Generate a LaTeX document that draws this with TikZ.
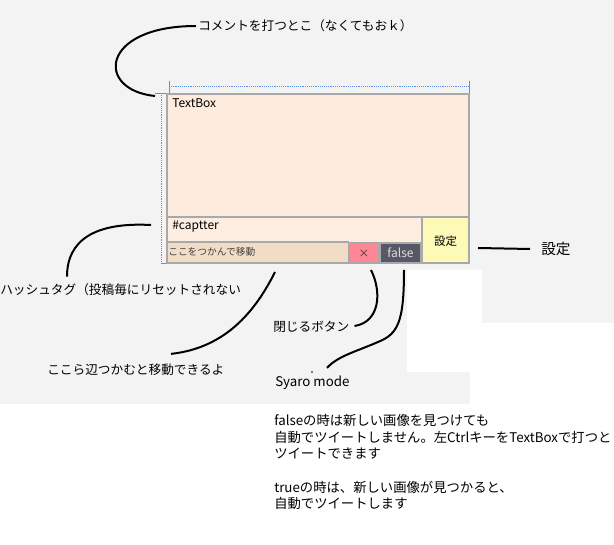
\documentclass[tikz,border=0pt]{standalone}
\usepackage{fontspec}
\setmainfont{Noto Sans CJK JP}
\usetikzlibrary{calc}
\definecolor{bggray}{HTML}{F3F3F3}
\definecolor{peach}{HTML}{FDEBDD}
\definecolor{peachlight}{HTML}{FEEEE2}
\definecolor{tanstrip}{HTML}{F2DCC6}
\definecolor{closepink}{HTML}{FF8795}
\definecolor{slate}{HTML}{575766}
\definecolor{paleyellow}{HTML}{FDF9B6}
\definecolor{framegray}{HTML}{A9A9A9}
\definecolor{guideblue}{HTML}{5B8DEF}
\tikzset{
  frame/.style={draw=framegray, line width=1.2pt},
  callout/.style={line width=1.5pt, black},
  label/.style={anchor=west, inner sep=0pt, font=\fontsize{9.5}{11}\selectfont},
  boxtext/.style={anchor=west, inner sep=0pt, font=\fontsize{9}{11}\selectfont},
}
\begin{document}
\begin{tikzpicture}[x=0.75pt,y=-0.75pt]
      \useasboundingbox (0,0) rectangle (614,545);
      \fill[bggray] (0,0) rectangle (614,545);
      \fill[white] (407,270) -- (482,270) -- (482,323) -- (614,323) -- (614,545)
                -- (0,545) -- (0,404) -- (470,404) -- (470,372) -- (407,372) -- cycle;
      \draw[guideblue, densely dotted] (169,86) -- (469,86);
      \draw[guideblue] (169,81) -- (169,93); \draw[guideblue] (469,81) -- (469,93);
      \draw[guideblue, densely dotted] (161,93) -- (161,263);
      \draw[guideblue] (155,93) -- (167,93); \draw[guideblue] (161,263) -- (167,263);
      \fill[peach] (167,94) rectangle (469,217);
      \fill[peachlight] (167,217) rectangle (422,242);
      \fill[tanstrip] (167,242) rectangle (349,263);
      \fill[paleyellow] (422,217) rectangle (469,263);
      \draw[frame, fill=closepink] (349,243) rectangle (379,263);
      \draw[frame, fill=slate] (380,243) rectangle (421,263);
      \draw[frame] (167,94) rectangle (469,263);
      \draw[frame] (167,217) -- (469,217);
      \draw[frame] (422,217) -- (422,263);
      \draw[frame] (167,242) -- (349,242);
      \node[boxtext] (textbox) at (172,103) {TextBox};
      \node[boxtext] (hashbox) at (172,227) {\#captter};
      \node[anchor=west, inner sep=0pt, font=\fontsize{7.3}{9}\selectfont, text=black!75]
            (grip) at (168,252) {ここをつかんで移動};
      \node[font=\fontsize{8}{9}\selectfont, text=black!80] (closebtn) at (364,254) {×};
      \node[font=\fontsize{9}{10}\selectfont, text=white!80!slate] (modebtn) at (400.5,253) {false};
      \node[font=\fontsize{8.6}{10}\selectfont] (setbtn) at (445.5,241) {設定};

      \node[label] (commentlbl) at (198,26) {コメントを打つとこ（なくてもおｋ）};
      \node[label] (hashlbl) at (0,290) {ハッシュタグ（投稿毎にリセットされない};
      \node[label] (griplbl) at (47,370) {ここら辺つかむと移動できるよ};
      \node[label] (closelbl) at (273,327) {閉じるボタン};
      \node[label, font=\fontsize{10}{12}\selectfont] (modelbl) at (275,383) {Syaro mode};
      \node[label, font=\fontsize{11}{13}\selectfont] (setlbl) at (541,249) {設定};
      \node[anchor=north west, inner sep=0pt, align=left, font=\fontsize{10}{12.5}\selectfont]
            (note) at (274,414) {falseの時は新しい画像を見つけても\\
            自動でツイートしません。左CtrlキーをTextBoxで打つと\\
            ツイートできます\\[12.5pt]
            trueの時は、新しい画像が見つかると、\\
            自動でツイートします};

      \coordinate (commenttip) at (155,96);
      \coordinate (hashtip) at (151,225);
      \coordinate (griptip) at (275,272);
      \coordinate (closetip) at (371,270);
      \coordinate (modetip) at (404,270);
      \coordinate (settip) at (478,248);
      \draw[callout] ($(commentlbl.west)+(-2,0)$) .. controls (100,26) and (95,90) .. (commenttip);
      \draw[callout] (hashtip) .. controls (95,222) and (67,240) .. ($(hashlbl.north west)+(67,-7)$);
      \draw[callout] (griptip) .. controls (255,312) and (225,348) .. ($(griplbl.north west)+(124,-10)$);
      \draw[callout] (closetip) .. controls (382,292) and (380,322) .. ($(closelbl.east)+(5,-1)$);
      \draw[callout] (modetip) .. controls (404,322) and (398,334) .. (378,342)
                  .. controls (355,352) and (338,356) .. ($(modelbl.north west)+(52,-8)$);
      \draw[callout] (settip) -- ($(setlbl.west)+(-11,0)$);
      \fill (312,372) circle (0.8);
     \end{tikzpicture}
\end{document}
